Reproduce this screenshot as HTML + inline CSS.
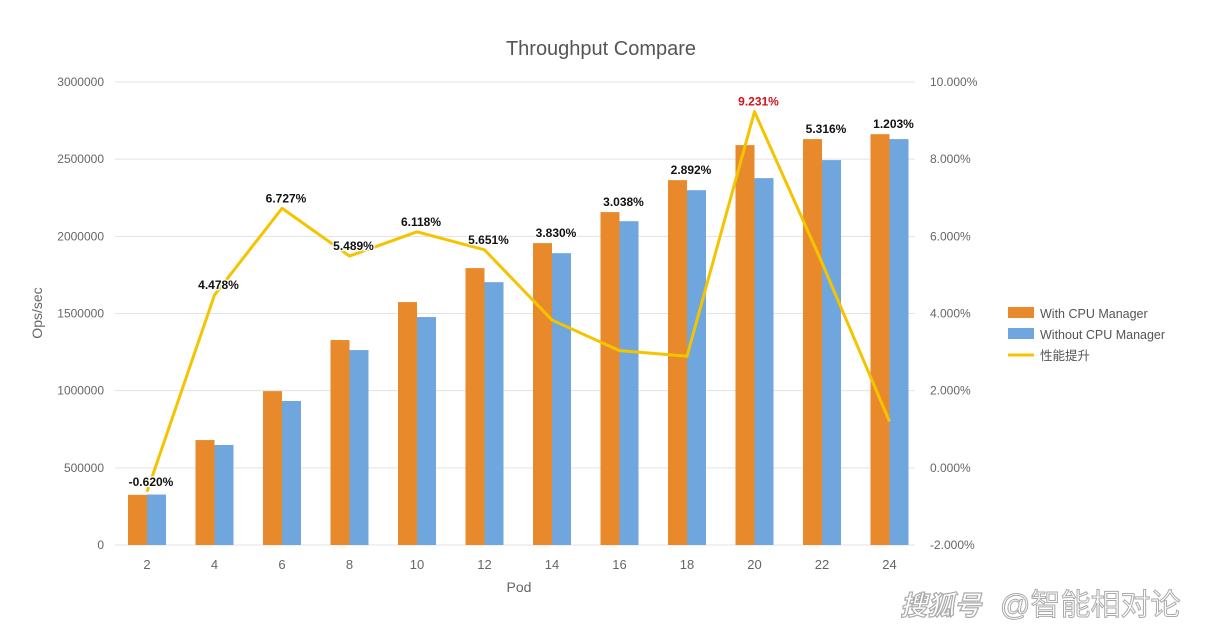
<!DOCTYPE html>
<html><head><meta charset="utf-8"><style>
body{margin:0;background:#fff;width:1210px;height:627px;overflow:hidden;font-family:"Liberation Sans","Noto Sans CJK SC",sans-serif}
</style></head><body>
<svg id="chart" width="1210" height="627" xmlns="http://www.w3.org/2000/svg" font-family="Liberation Sans, Noto Sans CJK SC, sans-serif"></svg>
<script>
const categories=[2,4,6,8,10,12,14,16,18,20,22,24];
const withCpu=[325000,680000,997000,1328000,1574000,1794000,1956000,2157000,2364000,2591000,2630000,2662000];
const withoutCpu=[327000,648000,933000,1263000,1477000,1703000,1891000,2098000,2299000,2377000,2494000,2630000];
const gain=[-0.62,4.478,6.727,5.489,6.118,5.651,3.83,3.038,2.892,9.231,5.316,1.203];
const gainLabels=["-0.620%","4.478%","6.727%","5.489%","6.118%","5.651%","3.830%","3.038%","2.892%","9.231%","5.316%","1.203%"];
const leftTicks=[0,500000,1000000,1500000,2000000,2500000,3000000];
const rightTicks=["-2.000%","0.000%","2.000%","4.000%","6.000%","8.000%","10.000%"];
const rightTickVals=[-2,0,2,4,6,8,10];
const NS="http://www.w3.org/2000/svg";
const svg=document.getElementById('chart');
const X0=115,X1=915,Y0=545,Y1=82;
const yL=v=>Y0-(v/3000000)*(Y0-Y1);
const yR=v=>Y0-((v+2)/12)*(Y0-Y1);
const xC=i=>147+i*67.5;
function mk(t,a,txt){const e=document.createElementNS(NS,t);for(const k in a)e.setAttribute(k,a[k]);if(txt!==undefined)e.textContent=txt;svg.appendChild(e);return e;}
let e;
e=mk('text',{x:601,y:55,'text-anchor':'middle','font-size':20,fill:'#555'},'Throughput Compare');


leftTicks.forEach((v,i)=>{
 e=mk('line',{x1:X0,x2:X1,y1:yL(v),y2:yL(v),stroke:'#e3e3e3','stroke-width':1});
 
 
 e=mk('text',{x:104,y:yL(v)+4,'text-anchor':'end','font-size':12,fill:'#666'},String(v));
 
 
 e=mk('text',{x:930,y:yR(rightTickVals[i])+4,'font-size':12,fill:'#666'},rightTicks[i]);
 
 
});
categories.forEach((c,i)=>{
 e=mk('rect',{x:xC(i)-19,y:yL(withCpu[i]),width:19,height:Y0-yL(withCpu[i]),fill:'#e8892b'});
 
 
 e=mk('rect',{x:xC(i),y:yL(withoutCpu[i]),width:19,height:Y0-yL(withoutCpu[i]),fill:'#6fa6dd'});
 
 
 e=mk('text',{x:xC(i),y:569,'text-anchor':'middle','font-size':13,fill:'#666'},String(c));
 
 
});
e=mk('polyline',{points:gain.map((g,i)=>xC(i)+','+yR(g)).join(' '),fill:'none',stroke:'#f5c400','stroke-width':3,'stroke-linejoin':'round'});


gain.forEach((g,i)=>{
 const ly=Math.min(yR(g),yL(withCpu[i]))-6;
 e=mk('text',{x:xC(i)+4,y:ly,'text-anchor':'middle','font-size':12,'font-weight':'bold',fill:g>9?'#d0121b':'#111',stroke:'#fff','stroke-width':2.5,'paint-order':'stroke'},gainLabels[i]);
 
 
});
e=mk('text',{x:519,y:592,'text-anchor':'middle','font-size':14,fill:'#666'},'Pod');


e=mk('text',{x:42,y:313,'text-anchor':'middle','font-size':14,fill:'#666',transform:'rotate(-90 42 313)'},'Ops/sec');


const leg=[['#e8892b','With CPU Manager','rect'],['#6fa6dd','Without CPU Manager','rect'],['#f5c400','性能提升','line']];
leg.forEach((l,i)=>{
 const y=313+i*21;
 if(l[2]==='rect'){e=mk('rect',{x:1008,y:y-6,width:26,height:11,fill:l[0]});}
 else{e=mk('line',{x1:1008,x2:1034,y1:y,y2:y,stroke:l[0],'stroke-width':3});}
 
 
 e=mk('text',{x:1040,y:y+5,'font-size':12.5,fill:'#555'},l[1]);
 
 
});
e=mk('text',{x:900,y:615,'font-size':27,'font-style':'italic','font-weight':'bold',fill:'#fff',stroke:'#aaa','stroke-width':1.2},'搜狐号');


e=mk('text',{x:1000,y:615,'font-size':30,fill:'#fff',stroke:'#aaa','stroke-width':1},'@智能相对论');


</script>
</body></html>
